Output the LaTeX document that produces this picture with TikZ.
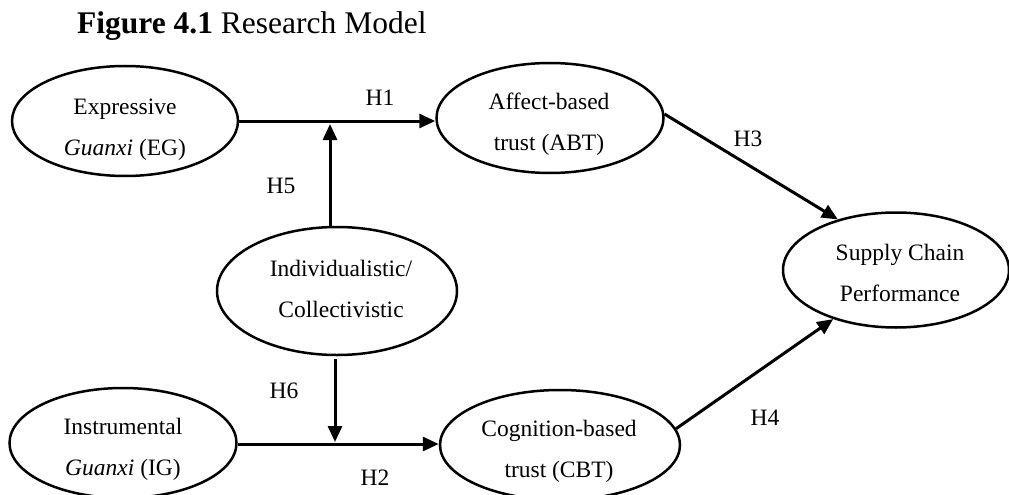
\documentclass[tikz,border=0pt]{standalone}
\usepackage{fontspec}
\setmainfont{Liberation Serif}
\usetikzlibrary{shapes.geometric,arrows.meta}
\begin{document}
\begin{tikzpicture}[x=1pt,y=-1pt,
  ell/.style={draw, ellipse, line width=2.5pt, inner sep=0pt},
  txt/.style={align=center, inner sep=0pt, font=\fontsize{23.5}{41}\selectfont},
  hyp/.style={inner sep=0pt, font=\fontsize{23.5}{28}\selectfont},
  link/.style={line width=3pt, -{Triangle[length=16pt,width=14pt]}}]
\useasboundingbox (0,0) rectangle (1009,495);
% title
\node[anchor=base west, inner sep=0pt, font=\fontsize{31.5}{36}\selectfont] (title) at (77,34) {\textbf{Figure 4.1} Research Model};
% ellipses
\node[ell, minimum width=226pt, minimum height=110pt] (eg) at (125,121) {};
\node[ell, minimum width=227pt, minimum height=110pt] (abt) at (550,118) {};
\node[ell, minimum width=240pt, minimum height=128pt] (ind) at (337,291) {};
\node[ell, minimum width=227pt, minimum height=110pt] (ig) at (123,443) {};
\node[ell, minimum width=240pt, minimum height=110pt] (cbt) at (560,445) {};
\node[ell, minimum width=226pt, minimum height=115pt] (scp) at (896,270) {};
% texts
\node[txt] (egt) at (125,130) {Expressive\\\textit{Guanxi} (EG)};
\node[txt] (abtt) at (549,124) {Affect-based\\trust (ABT)};
\node[txt] (indt) at (341,289) {Individualistic/\\Collectivistic};
\node[txt] (igt) at (123,449) {Instrumental\\\textit{Guanxi} (IG)};
\node[txt] (cbtt) at (559,451) {Cognition-based\\trust (CBT)};
\node[txt] (scpt) at (900,273) {Supply Chain\\Performance};
% junction points
\coordinate (j1) at (330,121);
\coordinate (j1t) at (330,124);
\coordinate (j2) at (335,444);
\coordinate (j2t) at (335,442);
\coordinate (ind1) at (330,227);
\coordinate (ind2) at (335,359);
% connectors
\draw[link] (eg.east) -- (eg.east -| abt.west);
\draw[link] (ig.east |- j2) -- (j2 -| cbt.west);
\draw[link] (ind1) -- (j1t);
\draw[link] (ind2) -- (j2t);
\draw[link] (abt.2) -- (scp.139);
\draw[link] (cbt.8) -- (scp.218);
% labels
\node[hyp] (h1) at (380,98) {H1};
\node[hyp] (h2) at (375,478) {H2};
\node[hyp] (h3) at (748,139) {H3};
\node[hyp] (h4) at (765,418) {H4};
\node[hyp] (h5) at (281,186) {H5};
\node[hyp] (h6) at (284,391) {H6};
\end{tikzpicture}
\end{document}
